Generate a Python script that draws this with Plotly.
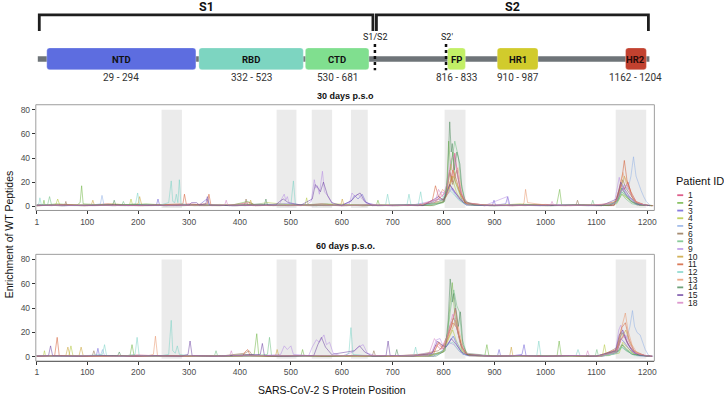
import plotly.graph_objects as go

# ---------------- data ----------------
patients = ["1", "2", "3", "4", "5", "6", "8", "9", "10", "11", "12", "13", "14", "15", "18"]
colors = ["#D6366E", "#6DB33F", "#6A5BD6", "#B2C73A", "#8FAFE6", "#91704E", "#6CBF80", "#B58BE3",
          "#C9A032", "#D2592F", "#79D3C6", "#E8946B", "#4C8C5A", "#6B3FA0", "#D57FC2"]

x_ticks = [1, 100, 200, 300, 400, 500, 600, 700, 800, 900, 1000, 1100, 1200]
y_ticks = [0, 20, 40, 60, 80]
highlight_start = [246, 472, 541, 618, 802, 1138]
highlight_end = [286, 511, 581, 651, 843, 1198]

domain_names = ["NTD", "RBD", "CTD", "FP", "HR1", "HR2"]
domain_ranges = ["29 - 294", "332 - 523", "530 - 681", "816 - 833", "910 - 987", "1162 - 1204"]

# 30 days p.s.o  (position, enrichment)
d30_1 = [(1,1),(30,0.5),(60,1.5),(95,0.5),(140,2),(180,0.5),(230,1),(270,0.5),(300,2),(345,0.5),(380,1),(420,3),(425,0.5),(470,1),(520,0.5),(560,2),(600,0.5),(650,1),(700,0.5),(740,1.5),(780,2),(795,8),(805,12),(812,30),(817,20),(822,44),(828,25),(835,10),(845,2),(880,0.5),(930,1),(960,0.5),(1000,1.5),(1050,0.5),(1100,1),(1130,0.5),(1140,5),(1148,18),(1155,14),(1162,20),(1170,8),(1180,3),(1195,1),(1210,0.5)]
d30_2 = [(1,0.5),(13,1),(15,5),(17,1),(40,2),(80,1),(86,3),(89,17),(92,2),(130,1),(175,0.5),(215,2),(250,1),(290,0.5),(330,1.5),(380,0.5),(415,4),(430,1),(480,0.5),(530,1),(570,2),(610,0.5),(660,1),(668,1),(671,5),(674,1),(710,0.5),(760,1),(800,3),(806,15),(810,54),(814,30),(818,45),(823,20),(830,12),(838,3),(870,1),(920,0.5),(980,1),(1022,1),(1028,14),(1032,1),(1080,0.5),(1120,1),(1140,3),(1150,12),(1158,8),(1168,4),(1180,1),(1210,0.5)]
d30_3 = [(1,1),(50,0.5),(100,1),(150,0.5),(205,1.5),(236,1),(239,6),(242,1),(250,0.5),(320,1),(335,6),(340,1),(390,0.5),(440,1),(490,2),(540,0.5),(600,1),(618,4),(625,9),(632,6),(640,10),(648,3),(670,0.5),(720,1),(770,2),(790,6),(800,4),(812,18),(820,12),(830,8),(845,2),(880,0.5),(896,1),(899,5),(902,1),(922,2),(926,8),(930,1),(990,0.5),(1040,1),(1090,0.5),(1135,1),(1145,10),(1152,15),(1160,9),(1172,5),(1185,1),(1210,0.5)]
d30_4 = [(1,0.5),(38,1),(42,6),(46,1),(90,0.5),(150,2),(183,1),(186,6),(189,1),(200,0.5),(260,1),(310,0.5),(360,1.5),(410,0.5),(455,3),(500,1),(528,1),(531,7),(534,1),(550,0.5),(590,2),(640,0.5),(680,1),(730,0.5),(780,2),(800,5),(810,15),(816,25),(825,12),(835,4),(850,1),(900,0.5),(950,2),(1000,0.5),(1060,1),(1110,0.5),(1140,2),(1150,10),(1160,7),(1175,3),(1200,0.5)]
d30_5 = [(1,1),(60,0.5),(110,1),(126,2),(129,9),(133,1),(180,0.5),(225,1),(275,0.5),(330,1),(385,0.5),(440,2),(495,0.5),(545,1),(600,0.5),(650,1),(700,0.5),(760,1),(795,3),(808,10),(815,15),(825,8),(840,2),(890,0.5),(940,1),(990,0.5),(1045,1.5),(1100,0.5),(1138,2),(1146,12),(1155,18),(1162,14),(1168,25),(1173,41),(1178,25),(1183,18),(1188,13),(1193,8),(1198,4),(1205,1),(1212,0.5)]
d30_6 = [(1,0.5),(45,1),(56,1),(58,4),(60,1),(100,0.5),(160,1.5),(210,0.5),(265,1),(320,0.5),(375,1),(409,1),(412,6),(415,1),(425,2),(430,0.5),(480,1),(535,0.5),(585,1),(640,0.5),(700,1),(750,0.5),(790,4),(805,8),(812,28),(818,18),(826,30),(833,12),(842,3),(880,1),(935,0.5),(985,1),(1035,0.5),(1060,1),(1063,5),(1066,1),(1090,1),(1135,0.5),(1145,12),(1152,22),(1158,15),(1166,10),(1178,3),(1200,0.5)]
d30_8 = [(1,1),(22,1),(26,8),(30,1),(75,0.5),(125,1),(168,1),(171,4),(174,1),(230,1),(285,0.5),(340,1),(395,0.5),(450,1.5),(505,0.5),(555,1),(605,0.5),(655,1),(710,0.5),(765,1),(798,3),(808,20),(815,35),(822,54),(829,41),(834,20),(842,5),(855,1),(900,0.5),(955,1),(1010,0.5),(1065,1),(1090,1),(1093,5),(1096,1),(1115,0.5),(1142,4),(1150,10),(1158,6),(1170,2),(1200,0.5)]
d30_9 = [(1,0.5),(55,1),(110,0.5),(165,1),(220,0.5),(280,1),(335,0.5),(390,1),(440,0.5),(478,2),(483,7),(487,10),(490,5),(493,8),(497,2),(530,1),(540,4),(546,22),(549,15),(552,17),(556,10),(562,29),(566,12),(572,9),(578,5),(585,1),(615,2),(620,11),(626,8),(632,10),(640,6),(650,2),(690,0.5),(740,1),(785,5),(795,12),(808,10),(818,15),(830,6),(842,2),(880,0.5),(925,8),(928,1),(980,0.5),(1030,1),(1085,0.5),(1135,2),(1141,15),(1145,24),(1150,14),(1158,10),(1168,5),(1180,1),(1210,0.5)]
d30_10 = [(1,1),(50,0.5),(105,1.5),(108,1),(111,5),(114,1),(155,0.5),(200,2),(203,8),(207,1),(255,0.5),(305,1),(355,0.5),(405,1),(418,1),(421,5),(424,1),(460,0.5),(515,1),(565,0.5),(598,1),(601,6),(604,1),(620,1),(672,0.5),(725,1),(775,0.5),(800,4),(810,12),(818,25),(826,18),(835,8),(845,2),(890,0.5),(945,1),(995,0.5),(1050,1),(1100,0.5),(1140,4),(1148,15),(1155,25),(1162,18),(1172,6),(1185,1),(1210,0.5)]
d30_11 = [(1,0.5),(45,1),(95,0.5),(150,1),(205,0.5),(250,1),(288,2),(291,10),(295,1),(336,2),(339,10),(343,1),(390,0.5),(445,1),(495,0.5),(550,1),(600,0.5),(655,1),(705,0.5),(760,1),(778,5),(784,17),(790,8),(800,5),(810,14),(818,30),(825,22),(833,10),(842,3),(880,1),(935,0.5),(990,1),(1040,0.5),(1095,1),(1135,1),(1145,14),(1151,25),(1155,38),(1160,22),(1168,12),(1178,4),(1195,1),(1212,0.5)]
d30_12 = [(1,1),(5,2),(7,7),(10,1),(55,0.5),(105,1),(155,0.5),(195,2),(199,11),(203,1),(240,0.5),(260,3),(265,21),(268,4),(272,3),(275,10),(278,3),(281,22),(284,2),(310,0.5),(360,1),(410,0.5),(460,1),(500,1),(505,21),(509,1),(550,0.5),(600,1),(650,0.5),(686,1),(690,10),(694,1),(728,1),(732,10),(736,1),(750,1),(755,12),(759,1),(790,2),(810,14),(820,10),(830,5),(845,1),(895,0.5),(950,1),(1005,0.5),(1055,1),(1105,0.5),(1140,3),(1150,12),(1160,8),(1175,2),(1205,0.5)]
d30_13 = [(1,0.5),(60,1),(115,0.5),(170,1),(225,0.5),(280,1),(330,0.5),(385,1),(435,0.5),(490,1),(540,0.5),(595,1),(645,0.5),(695,1),(750,0.5),(790,6),(798,14),(806,10),(814,35),(820,24),(828,32),(836,10),(848,2),(900,0.5),(955,1),(958,3),(961,14),(965,3),(1010,0.5),(1060,1),(1110,0.5),(1138,4),(1145,15),(1152,28),(1158,20),(1166,12),(1176,4),(1195,1),(1210,0.5)]
d30_14 = [(1,1),(50,0.5),(100,1),(150,1),(153,5),(156,1),(200,1.5),(255,0.5),(305,1),(360,0.5),(410,1.5),(448,1),(451,6),(454,1),(465,0.5),(520,1),(575,0.5),(625,1),(680,0.5),(730,1),(780,0.5),(802,4),(808,25),(812,70),(815,45),(817,52),(821,30),(826,45),(832,35),(836,15),(842,4),(860,1),(910,0.5),(965,1),(1020,0.5),(1075,1),(1125,0.5),(1142,5),(1150,15),(1157,10),(1168,4),(1185,1),(1210,0.5)]
d30_15 = [(1,0.5),(40,1),(90,0.5),(145,1),(195,0.5),(250,1),(300,1),(305,3),(315,3),(320,1),(333,2),(336,8),(340,1),(385,0.5),(435,1),(470,1),(478,4),(485,6),(495,3),(520,1),(542,6),(548,18),(552,16),(558,12),(564,20),(572,9),(580,3),(600,0.5),(620,5),(628,9),(636,11),(645,4),(660,0.5),(710,1),(760,0.5),(790,8),(800,5),(812,18),(822,12),(832,6),(845,1),(900,0.5),(950,1),(1005,0.5),(1060,1),(1110,0.5),(1140,6),(1148,20),(1156,14),(1165,8),(1178,2),(1205,0.5)]
d30_18 = [(1,1),(55,0.5),(110,1),(165,0.5),(220,1),(275,0.5),(330,1),(370,1),(373,5),(376,1),(435,1),(490,0.5),(545,1),(595,0.5),(650,1),(700,0.5),(755,1),(785,6),(790,14),(798,8),(808,20),(814,38),(820,42),(826,28),(834,12),(845,3),(880,1),(935,0.5),(990,1),(1010,1),(1013,4),(1016,1),(1040,0.5),(1095,1),(1138,3),(1148,12),(1160,18),(1168,10),(1180,3),(1200,0.5)]

# 60 days p.s.o.
d60_1 = [(1,1),(45,0.5),(95,1),(150,0.5),(200,1.5),(255,0.5),(305,1),(360,0.5),(410,1.5),(460,0.5),(515,1),(565,0.5),(620,1),(670,0.5),(725,1),(775,1),(785,10),(795,6),(808,18),(815,25),(823,40),(828,22),(835,8),(845,2),(895,0.5),(950,1),(1000,0.5),(1055,1),(1105,0.5),(1140,3),(1148,14),(1155,18),(1163,10),(1175,3),(1200,0.5)]
d60_2 = [(1,0.5),(50,1),(100,0.5),(150,1),(184,1),(188,10),(192,1),(240,0.5),(290,1),(340,0.5),(390,1),(428,2),(433,19),(437,1),(480,0.5),(520,1),(523,6),(526,1),(580,0.5),(630,1),(680,0.5),(730,1),(780,2),(800,5),(808,20),(813,45),(817,61),(822,35),(828,20),(836,5),(850,1),(881,1),(885,10),(889,1),(935,0.5),(985,1),(1023,1),(1027,13),(1031,1),(1075,0.5),(1125,1),(1145,5),(1152,10),(1160,6),(1175,2),(1205,0.5)]
d60_3 = [(1,1),(55,0.5),(105,1),(118,1),(121,7),(124,1),(160,0.5),(215,1),(265,0.5),(320,1),(370,0.5),(420,1.5),(475,0.5),(525,1),(575,0.5),(630,1),(680,0.5),(730,1),(780,0.5),(795,4),(808,10),(819,17),(826,10),(838,2),(880,1),(906,1),(909,6),(912,1),(930,0.5),(954,2),(958,10),(962,1),(1010,0.5),(1060,1),(1110,0.5),(1140,4),(1148,15),(1155,12),(1165,6),(1180,1),(1210,0.5)]
d60_4 = [(1,0.5),(14,1),(16,5),(18,1),(40,1),(64,1),(68,9),(72,1),(115,0.5),(165,1),(215,0.5),(270,1),(320,0.5),(370,1),(420,0.5),(470,1),(520,0.5),(575,1),(625,0.5),(675,1),(725,0.5),(775,1),(800,4),(810,15),(818,22),(826,12),(838,3),(870,0.5),(920,1),(975,0.5),(1025,1),(1075,0.5),(1112,1),(1116,10),(1120,1),(1145,3),(1152,12),(1160,8),(1175,2),(1205,0.5)]
d60_5 = [(1,1),(50,0.5),(100,1),(126,1),(130,6),(134,1),(180,0.5),(235,1),(285,0.5),(335,1),(390,0.5),(440,1),(495,0.5),(545,1),(600,0.5),(650,1),(700,0.5),(750,1),(795,3),(808,10),(819,17),(826,12),(838,2),(885,0.5),(935,1),(990,0.5),(1040,1),(1090,0.5),(1135,2),(1145,15),(1152,20),(1160,15),(1166,25),(1171,38),(1175,25),(1180,20),(1186,18),(1191,12),(1196,6),(1203,1),(1212,0.5)]
d60_6 = [(1,0.5),(45,1),(100,0.5),(110,1),(113,5),(116,1),(155,1),(210,0.5),(265,1),(315,0.5),(370,1),(410,3),(418,5),(425,1),(475,0.5),(530,1),(580,0.5),(635,1),(660,1),(663,5),(666,1),(690,0.5),(740,1),(790,5),(805,12),(812,25),(820,32),(828,20),(836,8),(846,2),(900,0.5),(950,1),(1005,0.5),(1060,1),(1110,0.5),(1142,8),(1150,20),(1157,15),(1166,8),(1180,2),(1205,0.5)]
d60_8 = [(1,1),(55,0.5),(110,1),(165,0.5),(220,1),(270,0.5),(325,1),(350,1),(353,5),(356,1),(375,0.5),(425,1),(454,2),(458,16),(462,1),(510,0.5),(560,1),(615,0.5),(665,1),(715,0.5),(765,1),(800,4),(808,20),(814,40),(820,55),(826,42),(831,37),(836,15),(845,3),(890,1),(945,0.5),(995,1),(1050,0.5),(1098,1),(1101,6),(1104,1),(1142,4),(1150,8),(1158,5),(1172,2),(1205,0.5)]
d60_9 = [(1,0.5),(50,1),(105,0.5),(160,1),(215,0.5),(270,1),(325,0.5),(380,1),(430,0.5),(480,2),(487,9),(493,6),(500,9),(505,2),(535,1),(542,8),(550,14),(556,12),(565,18),(570,10),(576,12),(583,3),(600,0.5),(622,4),(632,8),(642,10),(650,3),(670,0.5),(720,1),(776,3),(786,14),(793,15),(800,8),(810,12),(820,10),(832,4),(845,1),(900,0.5),(955,1),(1010,0.5),(1065,1),(1115,0.5),(1138,6),(1144,22),(1148,26),(1154,18),(1162,10),(1172,4),(1190,1),(1210,0.5)]
d60_10 = [(1,1),(58,1),(62,8),(66,1),(84,1),(88,8),(92,1),(140,0.5),(195,1),(245,0.5),(300,1),(350,0.5),(405,1),(455,0.5),(470,1),(473,6),(476,1),(510,1),(560,0.5),(615,1),(665,0.5),(720,1),(770,0.5),(798,4),(808,14),(816,22),(824,30),(830,18),(838,5),(850,1),(905,0.5),(930,1),(933,8),(936,1),(955,1),(1010,0.5),(1060,1),(1110,0.5),(1140,5),(1150,16),(1158,22),(1165,12),(1175,4),(1195,1),(1210,0.5)]
d60_11 = [(1,0.5),(36,1),(41,16),(45,1),(90,0.5),(145,1),(195,0.5),(250,1),(300,0.5),(355,1),(405,0.5),(410,4),(415,6),(420,1),(470,0.5),(520,1),(575,0.5),(625,1),(675,0.5),(730,1),(780,2),(790,12),(800,6),(810,18),(818,28),(826,24),(834,10),(845,2),(895,0.5),(945,1),(1000,0.5),(1050,1),(1100,0.5),(1140,6),(1150,24),(1157,28),(1164,15),(1174,5),(1195,1),(1210,0.5)]
d60_12 = [(1,1),(50,0.5),(100,1),(130,2),(134,10),(138,1),(170,0.5),(194,2),(198,16),(202,1),(240,0.5),(260,2),(265,30),(268,5),(273,3),(277,9),(281,2),(310,0.5),(360,1),(410,0.5),(460,1),(510,0.5),(560,1),(605,0.5),(614,3),(618,24),(622,2),(660,0.5),(710,1),(741,1),(745,8),(749,1),(790,2),(808,10),(818,12),(830,5),(845,1),(895,0.5),(945,1),(983,1),(987,13),(991,1),(1035,0.5),(1060,1),(1064,6),(1068,1),(1110,0.5),(1142,3),(1150,8),(1160,5),(1175,1),(1205,0.5)]
d60_13 = [(1,0.5),(55,1),(110,0.5),(165,1),(215,0.5),(230,2),(234,17),(238,1),(285,0.5),(335,1),(390,0.5),(440,1),(490,0.5),(545,1),(595,0.5),(650,1),(700,0.5),(755,1),(780,4),(792,12),(800,8),(810,20),(818,30),(824,38),(830,22),(838,8),(850,1),(900,0.5),(950,1),(1005,0.5),(1055,1),(1105,0.5),(1138,5),(1146,18),(1152,30),(1157,36),(1162,22),(1170,10),(1180,3),(1200,0.5)]
d60_14 = [(1,1),(50,0.5),(105,1),(155,0.5),(160,1),(163,4),(166,1),(210,1),(260,0.5),(315,1),(365,0.5),(420,1),(470,0.5),(525,1),(575,0.5),(630,1),(680,0.5),(705,1),(708,6),(711,1),(735,1),(785,0.5),(803,5),(809,30),(813,64),(817,45),(820,52),(825,35),(829,25),(833,37),(838,10),(846,2),(895,0.5),(945,1),(1000,0.5),(1050,1),(1100,0.5),(1143,5),(1150,10),(1158,6),(1170,2),(1205,0.5)]
d60_15 = [(1,0.5),(24,1),(28,9),(32,1),(80,0.5),(130,1),(185,0.5),(235,1),(285,0.5),(298,2),(302,13),(306,1),(350,0.5),(400,1),(440,2),(444,11),(448,1),(495,0.5),(545,1),(553,10),(560,16),(568,8),(580,2),(625,5),(635,9),(645,4),(660,0.5),(687,1),(691,13),(695,1),(740,0.5),(778,3),(788,13),(795,10),(805,8),(815,15),(825,10),(835,4),(848,1),(900,0.5),(950,1),(1000,0.5),(1050,1),(1100,0.5),(1138,5),(1145,18),(1152,22),(1160,12),(1170,5),(1185,1),(1210,0.5)]
d60_18 = [(1,1),(50,0.5),(100,1),(150,0.5),(205,1),(255,0.5),(310,1),(360,0.5),(380,1),(383,5),(386,1),(410,1),(465,0.5),(515,1),(570,0.5),(620,1),(670,0.5),(720,1),(770,1),(776,8),(782,15),(790,10),(800,6),(810,22),(818,35),(824,28),(832,12),(842,3),(890,0.5),(940,1),(995,0.5),(1045,1),(1080,1),(1083,5),(1086,1),(1100,0.5),(1140,4),(1148,14),(1158,18),(1166,10),(1178,3),(1205,0.5)]

data30 = [d30_1, d30_2, d30_3, d30_4, d30_5, d30_6, d30_8, d30_9, d30_10, d30_11, d30_12, d30_13, d30_14, d30_15, d30_18]
data60 = [d60_1, d60_2, d60_3, d60_4, d60_5, d60_6, d60_8, d60_9, d60_10, d60_11, d60_12, d60_13, d60_14, d60_15, d60_18]

# ---------------- layout helpers (pixel -> paper) ----------------
W, H = 724, 397
def px(x):
    return x / W
def py(y):
    return 1 - y / H

PLOT_FONT = "Liberation Sans, Arial, sans-serif"
DIAG_FONT = "Roboto, sans-serif"

fig = go.Figure()

for panel_data, xa, ya in [(data30, "x", "y"), (data60, "x2", "y2")]:
    for pid, col, d in zip(patients, colors, panel_data):
        pts = sorted(d)
        fig.add_trace(go.Scatter(x=[p[0] for p in pts], y=[p[1] for p in pts], mode="lines",
                                 line=dict(color=col, width=0.8), opacity=0.65, name=pid,
                                 xaxis=xa, yaxis=ya, hoverinfo="skip"))

shapes = []
annotations = []

def note(text, x, y, size, color="#111111", family=PLOT_FONT, xanchor="center", **kw):
    annotations.append(dict(text=text, x=px(x), y=py(y), xref="paper", yref="paper", showarrow=False,
                            xanchor=xanchor, yanchor="middle", borderpad=0,
                            font=dict(family=family, size=size, color=color), **kw))

# highlight bands & panel borders
for xr_, yr_ in [("x", "y"), ("x2", "y2")]:
    for s, e in zip(highlight_start, highlight_end):
        shapes.append(dict(type="rect", xref=xr_, yref=yr_, x0=s, x1=e, y0=-1.5, y1=80,
                           fillcolor="#EBEBEB", line=dict(width=0), layer="below"))
    shapes.append(dict(type="rect", xref=xr_ + " domain", yref=yr_ + " domain", x0=0, x1=1, y0=0, y1=1,
                       line=dict(color="#9E9E9E", width=1), fillcolor="rgba(0,0,0,0)", layer="above"))

axis_common = dict(showgrid=False, zeroline=False, ticks="outside", ticklen=3, tickwidth=1,
                   tickcolor="#333333", tickfont=dict(family=PLOT_FONT, size=8.5, color="#4D4D4D"))
x_dom = [px(35), px(657)]
xr = [-1, 1214]
yr = [-3.5, 84.2]
fig.update_layout(
    xaxis=dict(domain=x_dom, range=xr, tickvals=x_ticks, anchor="y", showline=True,
               linecolor="#222222", linewidth=1, **axis_common),
    yaxis=dict(domain=[py(211), py(105)], range=yr, tickvals=y_ticks, anchor="x", showline=False, **axis_common),
    xaxis2=dict(domain=x_dom, range=xr, tickvals=x_ticks, anchor="y2", showline=True,
                linecolor="#222222", linewidth=1, **axis_common),
    yaxis2=dict(domain=[py(362), py(255)], range=yr, tickvals=y_ticks, anchor="x2", showline=False, **axis_common),
)

# panel titles & axis titles
note("<b>30 days p.s.o</b>", 346, 96, 9)
note("<b>60 days p.s.o.</b>", 346, 247, 9)
note("Enrichment of WT Peptides", 8, 235, 10.5, textangle=-90)
note("SARS-CoV-2 S Protein Position", 333, 391, 10.5)

# legend (drawn manually for compact spacing)
note("Patient ID", 678, 181, 11, xanchor="left")
for i, (pid, col) in enumerate(zip(patients, colors)):
    yy = 195.7 + i * 7.7
    shapes.append(dict(type="line", xref="paper", yref="paper", x0=px(680), x1=px(686), y0=py(yy), y1=py(yy),
                       line=dict(color=col, width=1.8), opacity=0.8))
    note(pid, 690, yy, 8.5, color="#222222", xanchor="left")

# ---------------- protein diagram ----------------
box_x0 = [46, 199, 306, 449, 499, 628]
box_x1 = [196, 304, 370, 467, 540, 649]
box_colors = ["#5D6DE0", "#7DD5C1", "#80DF8F", "#C2EF66", "#D1CB2C", "#C2412F"]
box_text_colors = ["#111111", "#111111", "#111111", "#111111", "#111111", "#2A0A08"]
BOX_Y0, BOX_Y1 = 48, 70

def rrect(x0, y0, x1, y1, r):
    pts = [("M", x0 + r, y0), ("L", x1 - r, y0), ("Q", x1, y0, x1, y0 + r), ("L", x1, y1 - r),
           ("Q", x1, y1, x1 - r, y1), ("L", x0 + r, y1), ("Q", x0, y1, x0, y1 - r), ("L", x0, y0 + r),
           ("Q", x0, y0, x0 + r, y0)]
    out = []
    for p in pts:
        coords = p[1:]
        s = [f"{px(coords[j]):.5f},{py(coords[j+1]):.5f}" for j in range(0, len(coords), 2)]
        out.append(p[0] + " " + " ".join(s))
    return " ".join(out) + " Z"

# backbone
shapes.append(dict(type="rect", xref="paper", yref="paper", x0=px(37), x1=px(652), y0=py(61.8), y1=py(56.5),
                   fillcolor="#6E7478", line=dict(width=0)))
for name, rng, x0, x1, c, tc in zip(domain_names, domain_ranges, box_x0, box_x1, box_colors, box_text_colors):
    shapes.append(dict(type="path", xref="paper", yref="paper", path=rrect(x0, BOX_Y0, x1, BOX_Y1, 3),
                       fillcolor=c, line=dict(color="rgba(255,255,255,0.5)", width=0.6)))
    note(f"<b>{name}</b>", (x0 + x1) / 2, 59.5, 9.5, color=tc, family=DIAG_FONT)
    note(rng, (x0 + x1) / 2, 77.5, 10, color="#333333", family=DIAG_FONT)

# brackets
for bx0, bx1, lab in [(38.5, 374, "S1"), (377.5, 651, "S2")]:
    path = f"M {px(bx0)},{py(31)} L {px(bx0)},{py(15)} L {px(bx1)},{py(15)} L {px(bx1)},{py(31)}"
    shapes.append(dict(type="path", xref="paper", yref="paper", path=path,
                       line=dict(color="#1E1E1E", width=2.8)))
    note(f"<b>{lab}</b>", (bx0 + bx1) / 2, 6.5, 12.5, family=DIAG_FONT)

# cleavage sites
for cx, lab in [(376, "S1/S2"), (447.5, "S2'")]:
    shapes.append(dict(type="line", xref="paper", yref="paper", x0=px(cx), x1=px(cx), y0=py(44), y1=py(70.5),
                       line=dict(color="#111111", width=2.5, dash="dot")))
    note(lab, cx + 1, 37.5, 9, color="#222222", family=DIAG_FONT)

fig.update_layout(
    width=W, height=H, margin=dict(l=0, r=0, t=0, b=0),
    paper_bgcolor="white", plot_bgcolor="white", showlegend=False,
    shapes=shapes, annotations=annotations,
)

fig.write_html("out.html", config={"displayModeBar": False, "staticPlot": True},
               post_script="document.body.style.margin='0';document.body.style.overflow='hidden';")
